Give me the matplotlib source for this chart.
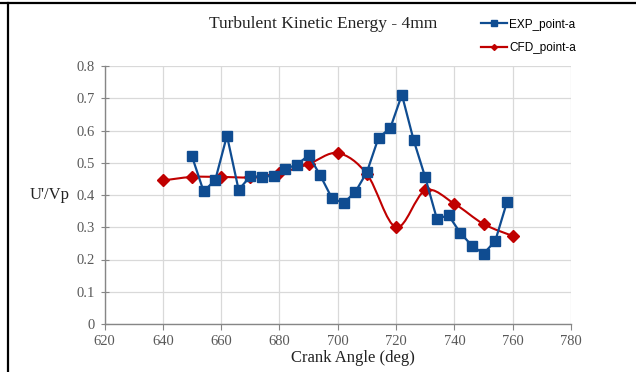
import numpy as np
import matplotlib.pyplot as plt
from matplotlib.path import Path
from matplotlib.patches import PathPatch
from matplotlib.lines import Line2D

# experimental points
exp_angle = [650, 654, 658, 662, 666, 670, 674, 678, 682, 686, 690, 694, 698, 702,
             706, 710, 714, 718, 722, 726, 730, 734, 738, 742, 746, 750, 754, 758]
exp_val = [0.52, 0.411, 0.447, 0.584, 0.416, 0.458, 0.456, 0.46, 0.481, 0.494, 0.523, 0.461,
           0.39, 0.375, 0.409, 0.471, 0.578, 0.607, 0.711, 0.571, 0.455, 0.326, 0.337,
           0.283, 0.243, 0.218, 0.257, 0.377]

# CFD points
cfd_angle = [640, 650, 660, 670, 680, 690, 700, 710, 720, 730, 740, 750, 760]
cfd_val = [0.445, 0.456, 0.456, 0.455, 0.468, 0.496, 0.53, 0.465, 0.30, 0.414, 0.373, 0.31, 0.273]

x_ticks = [620, 640, 660, 680, 700, 720, 740, 760, 780]
y_ticks = [0, 0.1, 0.2, 0.3, 0.4, 0.5, 0.6, 0.7, 0.8]

exp_color = '#0F4C91'
cfd_color = '#C00000'
serif = 'Liberation Serif'


def smooth_path(xs, ys):
    # excel-like smoothed line: cubic bezier through the points
    p = np.column_stack([xs, ys]).astype(float)
    verts = [p[0]]
    codes = [Path.MOVETO]
    n = len(p)
    for i in range(n - 1):
        p0 = p[max(i - 1, 0)]
        p1 = p[i]
        p2 = p[i + 1]
        p3 = p[min(i + 2, n - 1)]
        c1 = p1 + (p2 - p0) / 6.0
        c2 = p2 - (p3 - p1) / 6.0
        verts += [c1, c2, p2]
        codes += [Path.CURVE4] * 3
    return Path(verts, codes)


fig = plt.figure(figsize=(6.36, 3.72), dpi=100)
ax = fig.add_axes([104.5 / 636, 48 / 372, (571 - 104.5) / 636, (324 - 66) / 372])

ax.set_xlim(620, 780)
ax.set_ylim(0, 0.8)
ax.set_xticks(x_ticks)
ax.set_yticks(y_ticks)
ax.set_yticklabels(['0' if v == 0 else '%.1f' % v for v in y_ticks])
ax.grid(True, color='#D9D9D9', lw=0.9)
ax.set_axisbelow(True)

for s in ['top', 'right']:
    ax.spines[s].set_visible(False)
for s in ['left', 'bottom']:
    ax.spines[s].set_color('#868686')
    ax.spines[s].set_linewidth(1.0)

ax.tick_params(axis='x', direction='out', length=4, color='#868686', labelcolor='#595959',
               labelsize=10.5, pad=4)
ax.tick_params(axis='y', direction='inout', length=6, color='#868686', labelcolor='#595959',
               labelsize=10.5, pad=4)
for lab in ax.get_xticklabels() + ax.get_yticklabels():
    lab.set_family(serif)

# CFD smoothed curve
ax.add_patch(PathPatch(smooth_path(cfd_angle, cfd_val), fill=False, edgecolor=cfd_color,
                       lw=1.5, zorder=3))
ax.plot(cfd_angle, cfd_val, linestyle='none', marker='D', markersize=6.5,
        color=cfd_color, zorder=4)

ax.plot(exp_angle, exp_val, color=exp_color, lw=1.6, marker='s', markersize=6.5, zorder=5)

fig.text(323 / 636, 1 - 24 / 372, 'Turbulent Kinetic Energy - 4mm', family=serif,
         fontsize=12.5, ha='center', va='center', color='#222222')
ax.set_xlabel('Crank Angle (deg)', family=serif, fontsize=12, color='#222222')
ax.xaxis.set_label_coords((353 - 104.5) / (571 - 104.5), -(358 - 324) / (324 - 66))
ax.xaxis.label.set_va('center')
fig.text(70 / 636, 1 - 195 / 372, "U'/Vp", family=serif, fontsize=12, ha='right',
         va='center', color='#222222')

handles = [Line2D([], [], color=exp_color, lw=1.6, marker='s', markersize=4),
           Line2D([], [], color=cfd_color, lw=1.6, marker='D', markersize=3)]
fig.legend(handles, ['EXP_point-a', 'CFD_point-a'], loc='upper left',
           bbox_to_anchor=(470 / 636, 1 - 8 / 372), frameon=False,
           handlelength=2.2, handletextpad=0.2, labelspacing=0.95,
           prop={'family': 'Liberation Sans', 'size': 8.5})

# image frame lines (top and left)
fig.add_artist(Line2D([0, 1], [1 - 3 / 372, 1 - 3 / 372], color='black', lw=1.6))
fig.add_artist(Line2D([8 / 636, 8 / 636], [0, 1 - 3 / 372], color='black', lw=1.6))

fig.savefig('out.png', dpi=100)
